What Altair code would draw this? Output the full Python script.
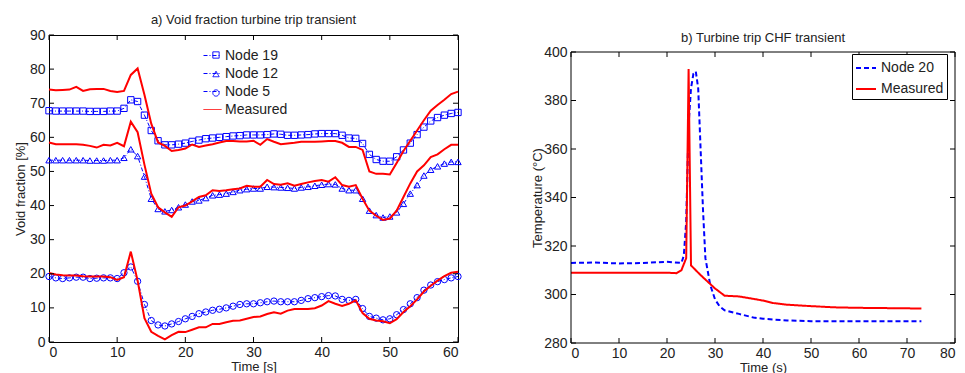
import altair as alt
import pandas as pd

# ---------------- data: panel a ----------------
t_a = list(range(0, 61))
node19 = [67.8, 67.7, 67.7, 67.7, 67.7, 67.7, 67.6, 67.6, 67.6, 67.7, 67.7, 68.5, 71.0, 70.5, 66.5, 62.0,
          59.0, 57.8, 57.8, 58.0, 58.3, 58.8, 59.2, 59.6, 59.8, 60.0, 60.2, 60.4, 60.5, 60.7, 60.7,
          60.7, 60.8, 61.0, 60.9, 60.6, 60.6, 60.7, 60.8, 61.0, 61.1, 61.1, 61.1, 60.6, 59.8, 59.7,
          58.2, 55.0, 53.5, 53.0, 53.0, 54.3, 56.3, 58.3, 60.8, 63.0, 64.8, 65.8, 66.5, 67.0, 67.3]
meas_top = [74.0, 73.8, 73.9, 74.0, 74.8, 73.6, 74.1, 74.2, 74.2, 73.6, 73.3, 73.6, 78.3, 80.2, 72.5, 64.0,
            58.5, 57.5, 56.0, 56.3, 56.7, 57.9, 57.2, 57.6, 58.0, 58.5, 58.9, 58.9, 58.8, 58.8, 59.0,
            57.8, 59.5, 58.7, 58.0, 58.2, 58.4, 58.7, 58.7, 58.7, 58.8, 58.9, 58.9, 58.4, 57.2, 57.2,
            56.3, 50.0, 49.3, 49.3, 49.1, 52.5, 56.0, 59.0, 62.0, 65.0, 67.8, 69.5, 71.0, 72.7, 73.4]
node12 = [53.3, 53.3, 53.3, 53.3, 53.3, 53.3, 53.2, 53.2, 53.2, 53.3, 53.3, 54.0, 56.5, 54.5, 48.5, 42.0,
          39.0, 38.3, 38.7, 39.5, 40.3, 41.2, 41.5, 42.2, 43.0, 43.2, 43.5, 44.0, 44.5, 44.8, 45.0,
          45.0, 45.5, 45.4, 45.3, 45.2, 45.0, 45.3, 45.5, 45.8, 46.1, 46.3, 46.2, 45.0, 44.5, 44.5,
          42.0, 38.5, 37.2, 36.5, 36.8, 38.0, 40.5, 43.5, 46.0, 48.8, 50.5, 51.5, 52.3, 52.8, 52.8]
meas_mid = [58.5, 58.0, 58.0, 58.0, 58.0, 57.8, 57.5, 57.0, 57.8, 57.6, 58.4, 57.4, 64.6, 61.5, 52.0, 43.5,
            39.5, 38.0, 36.7, 39.5, 40.0, 41.2, 42.5, 43.0, 44.5, 44.3, 44.5, 44.8, 45.0, 45.8, 45.5,
            45.5, 47.5, 46.3, 46.1, 46.5, 45.8, 46.3, 46.8, 47.2, 47.5, 47.0, 48.3, 46.0, 45.5, 46.0,
            42.0, 38.5, 37.0, 35.8, 36.2, 38.5, 42.5, 46.5, 50.0, 51.8, 54.2, 55.0, 56.5, 57.8, 57.8]
node5 = [19.2, 18.8, 18.6, 18.8, 19.0, 19.0, 18.6, 18.7, 18.8, 18.8, 18.6, 20.3, 22.0, 17.8, 11.0, 6.3,
         5.0, 4.7, 5.3, 6.0, 6.8, 7.5, 8.3, 8.8, 9.3, 9.6, 10.0, 10.5, 11.0, 11.2, 11.2,
         11.5, 11.8, 12.0, 11.8, 11.8, 11.8, 12.2, 12.7, 13.0, 13.3, 13.6, 13.5, 12.5, 12.2, 12.5,
         9.8, 7.5, 7.0, 6.5, 6.8, 8.0, 9.5, 11.2, 13.0, 15.2, 16.7, 17.7, 18.3, 18.8, 19.2]
meas_bot = [20.2, 19.8, 19.6, 19.5, 19.5, 19.3, 19.2, 19.2, 19.2, 19.0, 18.2, 19.0, 26.5, 18.0, 7.0, 3.0,
            1.8, 0.8, 2.0, 3.0, 2.9, 3.6, 4.3, 4.3, 5.3, 5.3, 5.8, 6.2, 6.3, 6.8, 7.3,
            7.5, 8.2, 8.7, 8.3, 9.2, 9.7, 9.7, 9.7, 9.9, 10.7, 12.0, 11.2, 10.6, 11.2, 12.2,
            8.5, 6.8, 6.3, 6.1, 5.5, 6.7, 8.8, 10.5, 12.5, 14.8, 16.5, 18.0, 19.3, 20.3, 20.6]

# ---------------- data: panel b ----------------
node20_t = [0, 5, 10, 15, 20, 23, 23.5, 24, 24.5, 25, 25.5, 26, 26.5, 27, 27.5, 28, 29, 30, 31, 32,
            35, 38, 40, 45, 50, 60, 73]
node20_v = [313, 313.2, 312.8, 313, 313.5, 313, 316, 330, 370, 385, 391, 392, 385, 360, 335, 315, 304,
            298, 295, 293.5, 292, 290.5, 290, 289.3, 289, 289, 289]
measb_t = [0, 10, 20, 22, 23, 24, 24.5, 25, 25.5, 27, 30, 32, 35, 38, 40, 42, 45, 50, 55, 60, 70, 73]
measb_v = [309, 309, 309, 308.8, 310, 315, 393, 312, 311, 308, 302.5, 299.5, 299.2, 298.2, 297.5,
           296.5, 295.8, 295.2, 294.7, 294.5, 294.3, 294.2]

xa_ticks = [0, 10, 20, 30, 40, 50, 60]
ya_ticks = [0, 10, 20, 30, 40, 50, 60, 70, 80, 90]
xb_ticks = [0, 10, 20, 30, 40, 50, 60, 70, 80]
yb_ticks = [280, 300, 320, 340, 360, 380, 400]

FONT = "Liberation Sans"
BLUE = "#0000ff"
RED = "#ff0000"
TXT = "#222222"

# ---------------- tables ----------------
rows_nodes = []
for name, vals in [("Node 19", node19), ("Node 12", node12), ("Node 5", node5)]:
    for t, v in zip(t_a, vals):
        rows_nodes.append({"t": t, "v": v, "series": name, "marker": name + " "})
df_nodes = pd.DataFrame(rows_nodes)

rows_meas = []
for name, vals in [("top", meas_top), ("mid", meas_mid), ("bot", meas_bot)]:
    for t, v in zip(t_a, vals):
        rows_meas.append({"t": t, "v": v, "grp": name})
df_meas = pd.DataFrame(rows_meas)

df_b = pd.DataFrame(
    [{"t": t, "v": v, "series": "Node 20"} for t, v in zip(node20_t, node20_v)]
    + [{"t": t, "v": v, "series": "Measured"} for t, v in zip(measb_t, measb_v)]
)

WA, HA = 409, 307
WB, HB = 384, 308     # view of panel b; its plot box starts TOPB px below the view top
TOPB = 17
TICK = 5


def tick_layers(xt, yt, xenc, yenc, W, H, top=0):
    dx = pd.DataFrame({"t": xt})
    dy = pd.DataFrame({"v": yt})
    base = dict(color="black", strokeWidth=1)
    return [
        alt.Chart(dx).mark_rule(**base).encode(x=xenc, y=alt.value(H), y2=alt.value(H - TICK)),
        alt.Chart(dx).mark_rule(**base).encode(x=xenc, y=alt.value(top), y2=alt.value(top + TICK)),
        alt.Chart(dy).mark_rule(**base).encode(y=yenc, x=alt.value(0), x2=alt.value(TICK)),
        alt.Chart(dy).mark_rule(**base).encode(y=yenc, x=alt.value(W), x2=alt.value(W - TICK)),
    ]


# ---------------- panel a ----------------
xsa = alt.Scale(domain=[0, 60], nice=False)
ysa = alt.Scale(domain=[0, 90], nice=False)
xa = alt.X("t:Q", scale=xsa, axis=alt.Axis(values=xa_ticks, title="Time [s]"))
ya = alt.Y("v:Q", scale=ysa, axis=alt.Axis(values=ya_ticks, title="Void fraction [%]"))

leg_dom = ["Node 19", "Node 12", "Node 5", "Measured"]
mark_dom = [s + " " for s in leg_dom]
LX, LY = 154, 11
leg_lines = alt.Legend(title=None, orient="none", legendX=LX, legendY=LY,
                       labelFont=FONT, labelFontSize=14, labelColor=TXT,
                       rowPadding=1, labelOffset=3, padding=0, symbolSize=324)
leg_marks = alt.Legend(title=None, orient="none", legendX=LX + 6, legendY=LY + 2,
                       labelFont=FONT, labelFontSize=14, labelColor=TXT, labelExpr="''",
                       rowPadding=5, labelOffset=3, padding=0, symbolSize=40,
                       symbolStrokeWidth=1, symbolStrokeColor=BLUE, symbolFillColor="rgba(0,0,0,0)",
                       symbolDash=[1, 0])

a_lines = alt.Chart(df_nodes).mark_line().encode(
    x=xa, y=ya,
    color=alt.Color("series:N", scale=alt.Scale(domain=leg_dom, range=[BLUE, BLUE, BLUE, RED]),
                    legend=leg_lines),
    strokeDash=alt.StrokeDash("series:N", scale=alt.Scale(
        domain=leg_dom, range=[[4, 2, 1, 2], [4, 2, 1, 2], [4, 2, 1, 2], [1, 0]]), legend=leg_lines),
    strokeWidth=alt.StrokeWidth("series:N", scale=alt.Scale(domain=leg_dom, range=[1, 1, 1, 2]),
                                legend=leg_lines),
)
a_points = alt.Chart(df_nodes).mark_point(filled=False, opacity=1, color=BLUE, size=40,
                                          strokeWidth=1).encode(
    x=xa, y=ya,
    shape=alt.Shape("marker:N", scale=alt.Scale(
        domain=mark_dom, range=["square", "triangle-up", "circle", "M0,0Z"]), legend=leg_marks),
)
a_meas = alt.Chart(df_meas).mark_line(color=RED, strokeWidth=2).encode(x=xa, y=ya, detail="grp:N")

panel_a = alt.layer(
    a_lines, a_points, a_meas, *tick_layers(xa_ticks, ya_ticks, xa, ya, WA, HA)
).properties(
    width=WA, height=HA,
    title=alt.TitleParams("a) Void fraction turbine trip transient", font=FONT, fontSize=13,
                          fontWeight="normal", color=TXT, offset=1),
)

# ---------------- panel b ----------------
xsb = alt.Scale(domain=[0, 80], nice=False)
ysb = alt.Scale(domain=[280, 400], nice=False, range=[HB, TOPB])
xb = alt.X("t:Q", scale=xsb, axis=alt.Axis(values=xb_ticks, title="Time (s)", labelFlush=True))
yb = alt.Y("v:Q", scale=ysb, axis=alt.Axis(values=yb_ticks, title="Temperature (°C)",
                                            titleY=(HB + TOPB) / 2, titleX=-27))
b_dom = ["Node 20", "Measured"]
leg_b = alt.Legend(title=None, orient="none", legendX=WB - 103, legendY=TOPB + 2,
                   labelFont=FONT, labelFontSize=14, labelColor=TXT,
                   strokeColor="black", padding=3, rowPadding=3,
                   symbolSize=400, symbolStrokeWidth=2, labelOffset=4,
                   fillColor="white")
b_lines = alt.Chart(df_b).mark_line(strokeWidth=2).encode(
    x=xb, y=yb,
    color=alt.Color("series:N", scale=alt.Scale(domain=b_dom, range=[BLUE, RED]), legend=leg_b),
    strokeDash=alt.StrokeDash("series:N", scale=alt.Scale(domain=b_dom, range=[[5, 3], [1, 0]]),
                              legend=leg_b),
)
# frame of panel b's plot box, placed through its own scales
yb_ends = pd.DataFrame({"v": [yb_ticks[0], yb_ticks[-1]]})
frame_h = alt.Chart(yb_ends).mark_rule(color="black", strokeWidth=1).encode(
    y=yb, x=alt.value(0), x2=alt.value(WB))
yb_span = pd.DataFrame({"v": [yb_ticks[0]], "v2": [yb_ticks[-1]]})
frame_l = alt.Chart(yb_span).mark_rule(color="black", strokeWidth=1).encode(
    x=alt.value(0), y=yb, y2="v2:Q")
frame_r = alt.Chart(yb_span).mark_rule(color="black", strokeWidth=1).encode(
    x=alt.value(WB), y=yb, y2="v2:Q")

panel_b = alt.layer(
    b_lines, frame_h, frame_l, frame_r,
    *tick_layers(xb_ticks, yb_ticks, xb, yb, WB, HB, top=TOPB)
).properties(
    width=WB, height=HB,
    view=alt.ViewBackground(stroke=None),
    title=alt.TitleParams("b) Turbine trip CHF transient", font=FONT, fontSize=13,
                          fontWeight="normal", color=TXT, offset=1, dy=11),
)

chart = alt.hconcat(panel_a, panel_b, spacing=67).resolve_scale(
    color="independent", shape="independent", strokeWidth="independent",
    strokeDash="independent", x="independent", y="independent"
).resolve_legend(
    color="independent", shape="independent", strokeWidth="independent", strokeDash="independent"
).configure_view(
    stroke="black", strokeWidth=1
).configure_axis(
    grid=False, ticks=False, domain=False,
    labelFont=FONT, labelFontSize=14, labelColor=TXT, labelPadding=4,
    titleFont=FONT, titleFontSize=13, titleFontWeight="normal", titleColor=TXT, titlePadding=2,
).configure_axisX(labelPadding=3, titlePadding=1).properties(
    padding={"left": 5, "top": 5, "right": 0, "bottom": 0}, background="white")

chart.save("out.html", embed_options={"renderer": "svg", "actions": False})
